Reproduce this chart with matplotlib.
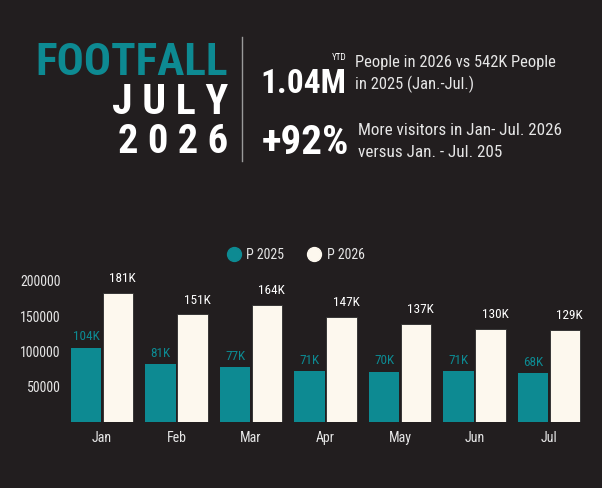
import matplotlib
matplotlib.use("Agg")
import matplotlib.pyplot as plt
from matplotlib import font_manager as fm
import numpy as np

months = ["Jan", "Feb", "Mar", "Apr", "May", "Jun", "Jul"]
p2025 = [104000, 81000, 77000, 71000, 70000, 71000, 68000]
p2026 = [181000, 151000, 164000, 147000, 137000, 130000, 129000]
lab2025 = ["104K", "81K", "77K", "71K", "70K", "71K", "68K"]
lab2026 = ["181K", "151K", "164K", "147K", "137K", "130K", "129K"]
yticks = [50000, 100000, 150000, 200000]
series_names = ["P 2025", "P 2026"]

BG = "#221e1f"
TEAL = "#0d8a92"
CREAM = "#fdf8ee"
TXT = "#e6e6e6"

avail = {f.name for f in fm.fontManager.ttflist}
cands = ["Roboto Condensed", "Liberation Sans Narrow", "DejaVu Sans Condensed", "Roboto", "DejaVu Sans"]
FONT = [c for c in cands if c in avail][0]
plt.rcParams["font.family"] = [FONT, "DejaVu Sans"]

W, H = 602, 489
fig = plt.figure(figsize=(W / 100, H / 100), dpi=100, facecolor=BG)

def fx(px):
    return px / W

def fy(py):
    return 1 - py / H

renderer = fig.canvas.get_renderer()

def fit_text(x0, x1, ycen, s, color, weight="bold", size=20):
    t = fig.text(fx(x0), fy(ycen), s, color=color, fontsize=size, weight=weight,
                 ha="left", va="center")
    bb = t.get_window_extent(renderer)
    t.set_fontsize(size * (x1 - x0) / bb.width)
    return t

# Headline block
fit_text(35, 227, 63, "FOOTFALL", TEAL, size=30)
fit_text(112, 228, 103, "J U L Y", "white", size=30)
fit_text(118, 228, 142, "2 0 2 6", "white", size=30)
fig.add_artist(plt.Line2D([fx(242), fx(242)], [fy(38), fy(162)], color="#9a9a9a", lw=1))

fit_text(260, 346, 84, "1.04M", "white", size=26)
fig.text(fx(346), fy(58), "YTD", color="white", fontsize=6.5, ha="right", va="center")
t = fit_text(355, 556, 62, "People in 2026 vs 542K People", TXT, weight="normal", size=11)
fig.text(fx(355), fy(84), "in 2025 (Jan.-Jul.)", color=TXT, fontsize=t.get_fontsize(),
         ha="left", va="center")
fit_text(262, 350, 143, "+92%", "white", size=26)
t = fit_text(358, 562, 131, "More visitors in Jan- Jul. 2026", TXT, weight="normal", size=11)
fig.text(fx(358), fy(153), "versus Jan. - Jul. 205", color=TXT, fontsize=t.get_fontsize(),
         ha="left", va="center")

# Chart axes
ax_left, ax_right, ax_top, ax_bot = 66, 585, 262, 422.5
ax = fig.add_axes([fx(ax_left), fy(ax_bot), fx(ax_right - ax_left), (ax_bot - ax_top) / H])
ax.set_facecolor(BG)
x = np.arange(len(months))
pitch = 74.5
ax.set_xlim((ax_left - 102) / pitch, (ax_right - 102) / pitch)
ax.set_ylim(0, (ax_bot - ax_top) / 35.5 * 50000)
bw = 0.405
off = 0.215
ax.bar(x - off, p2025, bw, color=TEAL)
ax.bar(x + off, p2026, bw, color=CREAM, edgecolor="#2a2a2a", linewidth=0.6)
for xi, v, s in zip(x, p2025, lab2025):
    ax.annotate(s, (xi - off, v), xytext=(0, 8.5), textcoords="offset points",
                ha="center", va="center", color=TEAL, fontsize=9.5)
for xi, v, s in zip(x, p2026, lab2026):
    ax.annotate(s, (xi + off + 0.06, v), xytext=(0, 11), textcoords="offset points",
                ha="center", va="center", color="white", fontsize=9.5)
for sp in ax.spines.values():
    sp.set_visible(False)
ax.set_yticks(yticks)
ax.set_yticklabels([str(v) for v in yticks])
ax.set_xticks(x)
ax.set_xticklabels(months)
ax.tick_params(axis="both", length=0, colors=TXT, labelsize=10)
ax.tick_params(axis="y", pad=4)
ax.tick_params(axis="x", pad=6)

# Legend
fig.add_artist(plt.Line2D([fx(234)], [fy(255)], marker="o", markersize=10, color=TEAL, lw=0))
fig.text(fx(246), fy(255), series_names[0], color=TXT, fontsize=10, ha="left", va="center")
fig.add_artist(plt.Line2D([fx(314)], [fy(255)], marker="o", markersize=10, color=CREAM, lw=0))
fig.text(fx(327), fy(255), series_names[1], color=TXT, fontsize=10, ha="left", va="center")

fig.savefig("out.png", dpi=100, facecolor=BG)
